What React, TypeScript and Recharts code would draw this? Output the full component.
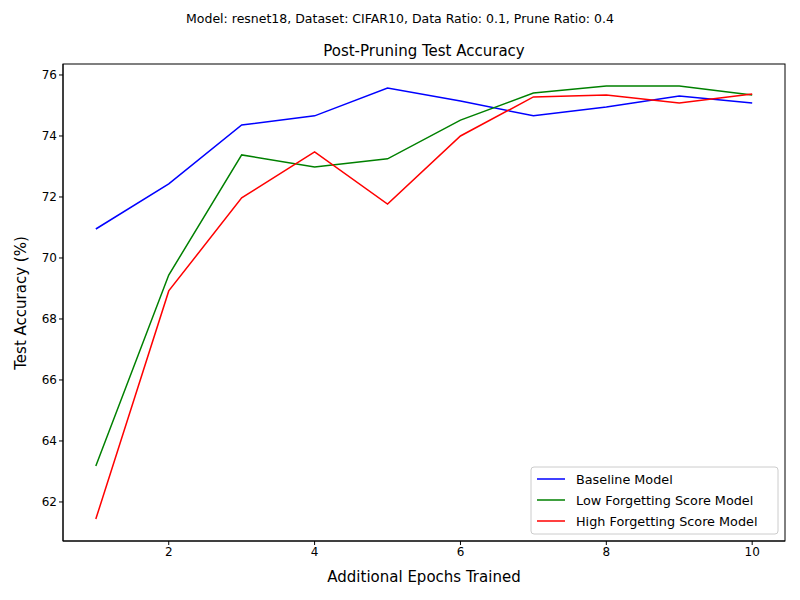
import React from "react";
import { LineChart, Line, XAxis, YAxis } from "recharts";

const epochs = [1, 2, 3, 4, 5, 6, 7, 8, 9, 10];
const baseline = [70.95, 72.43, 74.36, 74.66, 75.57, 75.15, 74.66, 74.95, 75.31, 75.08];
const lowForget = [63.18, 69.44, 73.38, 72.98, 73.25, 74.52, 75.41, 75.64, 75.64, 75.34];
const highForget = [61.44, 68.92, 71.97, 73.48, 71.77, 74.0, 75.28, 75.34, 75.08, 75.38];
const xTicks = [2, 4, 6, 8, 10];
const yTicks = [62, 64, 66, 68, 70, 72, 74, 76];

const data = epochs.map((e, i) => ({ e, b: baseline[i], l: lowForget[i], h: highForget[i] }));
const font = "DejaVu Sans, sans-serif";

export default function App() {
  const legend = [
    ["Baseline Model", "#0000ff"],
    ["Low Forgetting Score Model", "#008000"],
    ["High Forgetting Score Model", "#ff0000"],
  ];
  return (
    <div style={{ position: "absolute", left: 0, top: 0, width: 800, height: 600, background: "#fff", fontFamily: font }}>
      <LineChart width={800} height={600} data={data} margin={{ top: 64, right: 15, left: 0, bottom: 0 }}>
        <XAxis dataKey="e" type="number" domain={[0.55, 10.45]} ticks={xTicks} height={59}
          tick={{ fill: "#000", fontSize: 12, fontFamily: font }} tickSize={4} stroke="#000" />
        <YAxis type="number" domain={[60.72, 76.36]} ticks={yTicks} width={63}
          tick={{ fill: "#000", fontSize: 12, fontFamily: font }} tickSize={4} stroke="#000" />
        <Line dataKey="b" stroke="#0000ff" strokeWidth={1.5} dot={false} isAnimationActive={false} />
        <Line dataKey="l" stroke="#008000" strokeWidth={1.5} dot={false} isAnimationActive={false} />
        <Line dataKey="h" stroke="#ff0000" strokeWidth={1.5} dot={false} isAnimationActive={false} />
      </LineChart>
      <svg style={{ position: "absolute", left: 0, top: 0 }} width={800} height={600} pointerEvents="none">
        <rect x={63} y={64} width={722} height={477} fill="none" stroke="#000" strokeWidth={1} />
        <text x={400} y={23} textAnchor="middle" fontSize={12.5} fontFamily={font}>Model: resnet18, Dataset: CIFAR10, Data Ratio: 0.1, Prune Ratio: 0.4</text>
        <text x={424} y={56} textAnchor="middle" fontSize={15} fontFamily={font}>Post-Pruning Test Accuracy</text>
        <text x={424} y={582} textAnchor="middle" fontSize={15} fontFamily={font}>Additional Epochs Trained</text>
        <text x={0} y={0} transform="translate(26,303) rotate(-90)" textAnchor="middle" fontSize={15} fontFamily={font}>Test Accuracy (%)</text>
        <rect x={531} y={467} width={247} height={67} rx={3} fill="#fff" stroke="#ccc" />
        {legend.map(([t, c], i) => (
          <g key={t}>
            <line x1={537} x2={565} y1={479 + i * 21} y2={479 + i * 21} stroke={c} strokeWidth={1.5} />
            <text x={576} y={483.5 + i * 21} fontSize={12.8} fontFamily={font}>{t}</text>
          </g>
        ))}
      </svg>
    </div>
  );
}
